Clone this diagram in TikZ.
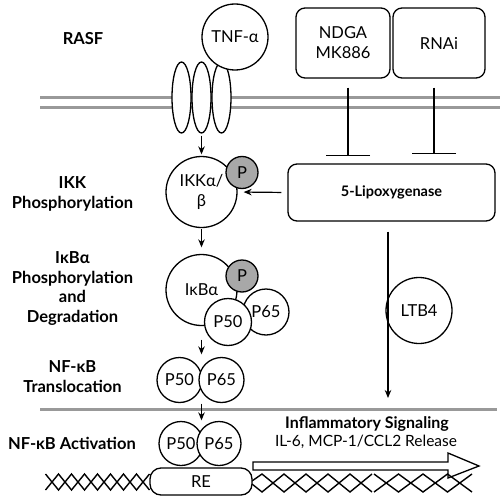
\documentclass[tikz,border=0pt]{standalone}
\usepackage{fontspec}
\setmainfont{Lato}
\usetikzlibrary{arrows.meta,shapes.geometric}
\definecolor{memgray}{HTML}{999999}
\definecolor{pgray}{HTML}{A8A8A8}
\begin{document}
\begin{tikzpicture}[x=1pt,y=-1pt,
  lab/.style={font=\bfseries\fontsize{16.5}{19.7}\selectfont, align=center},
  txt/.style={font=\fontsize{16.5}{20}\selectfont, align=center},
  mol/.style={circle, draw, line width=1.3pt, fill=white, inner sep=0pt, txt},
  pdot/.style={circle, draw, line width=1.3pt, fill=pgray, inner sep=0pt, minimum size=32pt, txt},
  rec/.style={ellipse, draw, line width=1.3pt, fill=white, inner sep=0pt, minimum width=19pt, minimum height=71pt},
  rbox/.style={rectangle, draw, line width=1.3pt, fill=white, rounded corners=9pt, inner sep=0pt, txt},
  memb/.style={draw=memgray, line width=3pt},
  arr/.style={-{Stealth[length=8pt,width=6.5pt]}, line width=1.2pt},
  inh/.style={-{Bar[width=44pt,line width=1.3pt]}, line width=1.3pt},
  dna/.style={line width=1.4pt, line join=miter}
]
\useasboundingbox (0,0) rectangle (501,503);
% membranes
\draw[memb] (40,97) -- (500,97);
\draw[memb] (40,107) -- (500,107);
\draw[memb] (40,409) -- (497,409);
% labels
\node[lab] (lrasf) at (83,39) {RASF};
\node[lab] (likk) at (72.5,194) {IKK\\Phosphorylation};
\node[lab] (likb) at (72.5,288.5) {IκBα\\Phosphorylation\\and\\Degradation};
\node[lab] (ltrans) at (72.5,376.5) {NF-κB\\Translocation};
\node[lab] (lact) at (72,443.5) {NF-κB Activation};
% receptor
\node[rec] (rec1) at (181.5,97.5) {};
\node[rec] (rec2) at (201.5,97.5) {};
\node[rec] (rec3) at (221.5,97.5) {};
\node[mol, minimum size=66pt] (tnf) at (235,37) {TNF-α};
% inhibitors
\node[rbox, minimum width=94pt, minimum height=70pt] (ndga) at (343,43) {NDGA\\MK886};
\node[rbox, minimum width=92pt, minimum height=70pt] (rnai) at (439,43) {RNAi};
\node[rbox, minimum width=207pt, minimum height=57pt, font=\bfseries\fontsize{14.5}{18}\selectfont] (lox) at (391.5,192.5) {5-Lipoxygenase};
\coordinate (x1) at (348,0);
\coordinate (x2) at (434,0);
\draw[inh, shorten <=9pt, shorten >=7pt] (x1 |- ndga.south) -- (x1 |- lox.north);
\draw[inh, shorten <=9pt, shorten >=9pt] (x2 |- rnai.south) -- (x2 |- lox.north);
% IKK
\node[mol, minimum size=71pt] (ikk) at (201.5,192) {IKKα/\\β};
\node[pdot] (ikkp) at (242,172.5) {P};
% IkBa complex
\node[mol, minimum size=71pt] (ikba) at (201.5,290) {IκBα};
\node[pdot] (ikbap) at (242,276) {P};
\node[mol, minimum size=46pt] (cp65) at (266,312) {P65};
\node[mol, minimum size=47pt] (cp50) at (228,322) {P50};
% translocation
\node[mol, minimum size=45pt] (tp50) at (179.5,380) {P50};
\node[mol, minimum size=45pt] (tp65) at (221.5,380) {P65};
% activation
\node[mol, minimum size=44pt] (ap50) at (181,443.5) {P50};
\node[mol, minimum size=44pt] (ap65) at (219,443.5) {P65};
% LTB4
\node[mol, minimum size=66pt] (ltb) at (419,310.5) {LTB4};
\coordinate (x3) at (388,0);
\coordinate (ltbend) at (388,398);
\draw[arr, shorten <=10pt] (x3 |- lox.south) -- (ltbend);
% arrows
\draw[arr, shorten <=2pt, shorten >=1.5pt] (rec2.south) -- (ikk.north);
\draw[arr, shorten <=1pt, shorten >=6.5pt] (ikk.south) -- (ikba.north);
\draw[arr, shorten <=13.5pt, shorten >=2.5pt] (ikba.south) -- (ikba.south |- tp50.north);
\draw[arr, shorten <=0.5pt, shorten >=0.5pt] (ikba.south |- tp50.south) -- (ikba.south |- ap50.north);
\draw[arr, shorten <=6pt, shorten >=6pt] (lox.west) -- (ikk.east);
% transcription arrow
\draw[line width=1.3pt, fill=white] (253,462) -- (448,462) -- (448,453) -- (479,466) -- (448,478) -- (448,470) -- (253,470) -- cycle;
\node[font=\bfseries\fontsize{16}{18}\selectfont] (infl) at (367,424) {Inflammatory Signaling};
\node[font=\fontsize{15.5}{18}\selectfont] (il6) at (366,442) {IL-6, MCP-1/CCL2 Release};
% DNA left
\draw[dna] (45.5,474) \foreach \k in {1,...,8} { -- ({45.5+13*\k},{mod(\k,2)==1 ? 490 : 474}) };
\draw[dna] (45.5,490) \foreach \k in {1,...,8} { -- ({45.5+13*\k},{mod(\k,2)==1 ? 474 : 490}) };
% DNA right part 1
\draw[dna] (252,481) -- (262,474) \foreach \k in {1,...,5} { -- ({262+22*\k},{mod(\k,2)==1 ? 492 : 474}) };
\draw[dna] (252,484) -- (262,492) \foreach \k in {1,...,5} { -- ({262+22*\k},{mod(\k,2)==1 ? 474 : 492}) };
% DNA right part 2
\draw[dna] (374,474) \foreach \k in {1,...,4} { -- ({374+24.5*\k},{mod(\k,2)==1 ? 492 : 474}) };
\draw[dna] (374,492) \foreach \k in {1,...,4} { -- ({374+24.5*\k},{mod(\k,2)==1 ? 474 : 492}) };
% RE
\node[rbox, rounded corners=11pt, minimum width=102pt, minimum height=27pt] (re) at (201,481.5) {RE};
\end{tikzpicture}
\end{document}
